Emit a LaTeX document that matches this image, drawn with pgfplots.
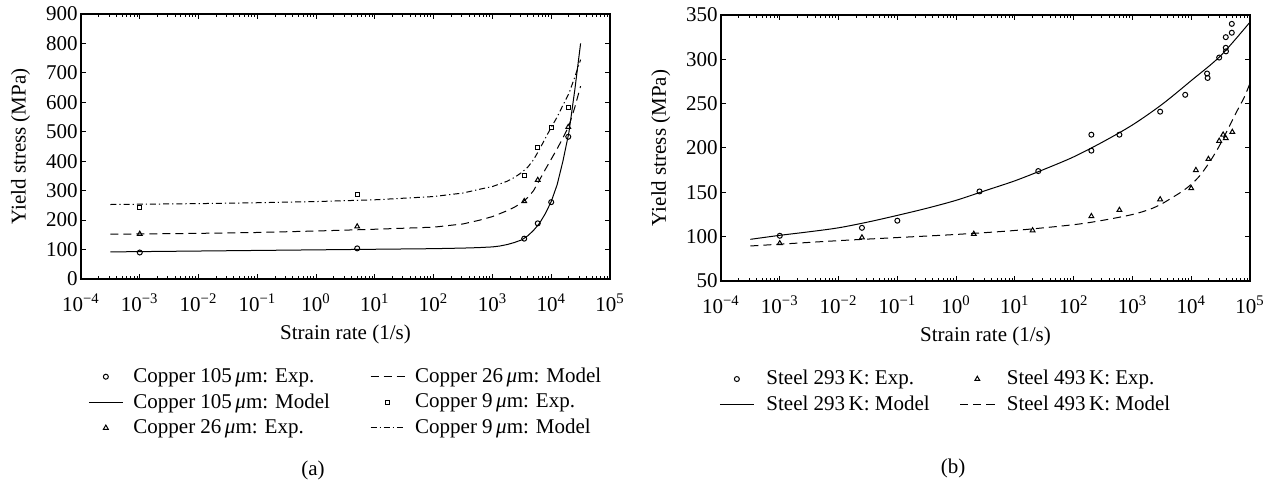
\documentclass[border=0pt]{standalone}
\usepackage{fontspec}
\setmainfont{Liberation Serif}
\usepackage{pgfplots}
\pgfplotsset{compat=1.18}

\newcommand{\sz}{\fontsize{10.5}{12}\selectfont}

\begin{document}
\begin{tikzpicture}
\useasboundingbox (0,0) rectangle (636.5pt,-242.5pt);

% (a) copper
\begin{axis}[
  xmode=log, scale only axis,
  width=264.5pt, height=132.5pt,
  at={(40.5pt,-139.5pt)}, anchor=south west,
  xmin=1e-4, xmax=1e5,
  ymin=0, ymax=900, ytick={0,100,...,900},
  xtick={1e-4,1e-3,1e-2,1e-1,1,1e1,1e2,1e3,1e4,1e5},
  xticklabels={10\textsuperscript{−4},10\textsuperscript{−3},10\textsuperscript{−2},10\textsuperscript{−1},10\textsuperscript{0},
    10\textsuperscript{1},10\textsuperscript{2},10\textsuperscript{3},10\textsuperscript{4},10\textsuperscript{5}},
  /pgf/number format/assume math mode=true,
  axis line style={line width=0.6pt},
  tick style={black, line width=0.5pt},
  major tick length=2.5pt, minor tick length=1.3pt,
  tick align=inside,
  ticklabel style={font=\sz},
  yticklabel style={inner xsep=1.5pt},
  xticklabel style={yshift=-4pt},
  label style={font=\sz},
  xlabel={Strain rate (1/s)},
  ylabel={Yield stress (MPa)},
  xlabel style={at={(axis description cs:0.5,-0.208)}, anchor=center},
  ylabel style={at={(axis description cs:-0.114,0.5)}, anchor=center},
  legend columns=2,
  legend cell align=left,
  legend style={draw=none, fill=none, inner sep=0pt, anchor=north west,
    at={(0.013,-0.319)}, font=\sz, row sep=0pt,
    /tikz/every odd column/.append style={column sep=3pt},
    /tikz/every even column/.append style={column sep=18pt}},
]
\addplot[only marks, mark=o, mark size=1.25pt, line width=0.5pt] coordinates {
  (1e-3,90) (5,104) (3470,137) (5900,189) (1e4,261) (19500,483)};
\addlegendentry{Copper 105\,\textit{μ}m: Exp.}
\addplot[black, line width=0.5pt, dash pattern=on 4pt off 2.5pt] coordinates {
  (3.16e-4,152) (1e-3,153) (1e-2,155) (0.1,158) (1,163) (10,169) (100,176)
  (316,187) (611,200) (1000,212) (1340,222) (1780,232) (2370,244) (3160,259)
  (4000,277) (5000,300) (6310,336) (7940,372) (1e4,407) (12600,442)
  (15800,479) (2e4,520) (25100,582) (31600,655)};
\addlegendentry{Copper 26\,\textit{μ}m: Model}
\addplot[black, line width=0.5pt] coordinates {
  (3.16e-4,92) (1e-3,93) (1e-2,95) (0.1,97) (1,99) (10,101) (100,103)
  (316,105) (562,106.5) (1000,109) (1330,112) (1780,117) (2370,124)
  (3160,133) (4000,147) (5000,165) (6310,189) (7940,222) (1e4,263)
  (12600,320) (15800,400) (2e4,498) (25100,640) (31600,800)};
\addlegendentry{Copper 105\,\textit{μ}m: Model}
\addplot[only marks, mark=square, mark size=1pt, line width=0.5pt] coordinates {
  (1e-3,243) (5,288) (3470,351) (5900,448) (1e4,516) (19500,583)};
\addlegendentry{Copper 9\,\textit{μ}m: Exp.}
\addplot[only marks, mark=triangle, mark size=1.4pt, line width=0.5pt] coordinates {
  (1e-3,153) (5,178) (3470,264) (5900,336) (19500,516)};
\addlegendentry{Copper 26\,\textit{μ}m: Exp.}
\addplot[black, line width=0.5pt, dash pattern=on 3pt off 1.5pt on 0.6pt off 1.5pt] coordinates {
  (3.16e-4,253) (1e-3,254) (1e-2,256) (0.1,259) (1,263) (10,269) (100,280)
  (316,292) (611,305) (1000,314) (1780,332) (2370,345) (3160,362)
  (4000,380) (5000,405) (6310,440) (7940,478) (1e4,515) (12600,550)
  (15800,590) (2e4,630) (25100,685) (31600,745)};
\addlegendentry{Copper 9\,\textit{μ}m: Model}
\end{axis}

% (b) steel
\begin{axis}[
  xmode=log, scale only axis,
  width=264.5pt, height=133pt,
  at={(360.5pt,-140.5pt)}, anchor=south west,
  xmin=1e-4, xmax=1e5,
  ymin=50, ymax=350, ytick={50,100,...,350},
  xtick={1e-4,1e-3,1e-2,1e-1,1,1e1,1e2,1e3,1e4,1e5},
  xticklabels={10\textsuperscript{−4},10\textsuperscript{−3},10\textsuperscript{−2},10\textsuperscript{−1},10\textsuperscript{0},
    10\textsuperscript{1},10\textsuperscript{2},10\textsuperscript{3},10\textsuperscript{4},10\textsuperscript{5}},
  /pgf/number format/assume math mode=true,
  axis line style={line width=0.6pt},
  tick style={black, line width=0.5pt},
  major tick length=2.5pt, minor tick length=1.3pt,
  tick align=inside,
  ticklabel style={font=\sz},
  yticklabel style={inner xsep=1.5pt},
  xticklabel style={yshift=-4pt},
  label style={font=\sz},
  xlabel={Strain rate (1/s)},
  ylabel={Yield stress (MPa)},
  xlabel style={at={(axis description cs:0.5,-0.208)}, anchor=center},
  ylabel style={at={(axis description cs:-0.114,0.5)}, anchor=center},
  legend columns=2,
  legend cell align=left,
  legend style={draw=none, fill=none, inner sep=0pt, anchor=north west,
    at={(-0.004,-0.319)}, font=\sz, row sep=0pt,
    /tikz/every odd column/.append style={column sep=4pt},
    /tikz/every even column/.append style={column sep=13pt}},
]
\addplot[only marks, mark=o, mark size=1.25pt, line width=0.5pt] coordinates {
  (1e-3,101) (0.025,110) (0.1,118) (2.5,151) (25,174) (200,215) (200,197)
  (600,215) (2960,241) (7900,260) (18600,284) (19000,279) (29900,302)
  (38700,325) (38700,313) (39000,309) (49000,340) (49000,330)};
\addlegendentry{Steel 293\,K: Exp.}
\addplot[only marks, mark=triangle, mark size=1.4pt, line width=0.5pt] coordinates {
  (1e-3,92.5) (0.025,99) (2,103) (20,107) (200,123) (600,130) (2960,142)
  (1e4,154.5) (12000,175) (19600,187.5) (29900,208) (34900,215)
  (38700,211) (50000,218)};
\addlegendentry{Steel 493\,K: Exp.}
\addplot[black, line width=0.5pt, smooth] coordinates {
  (3.16e-4,97) (1e-3,101.5) (3.16e-3,105.5) (1e-2,110) (3.16e-2,116.5)
  (0.1,124) (0.316,132) (1,141) (3.16,152) (10,163) (31.6,176) (100,190)
  (316,207) (1000,226) (3160,249) (1e4,276) (3.16e4,304) (1e5,342)};
\addlegendentry{Steel 293\,K: Model}
\addplot[black, line width=0.5pt, smooth, dash pattern=on 4pt off 2.5pt] coordinates {
  (3.16e-4,89.5) (1e-3,91.5) (1e-2,95.5) (0.1,99) (1,102.5) (10,107)
  (100,113.5) (316,118.5) (1000,125) (2000,131) (3160,137) (5000,145)
  (7000,151) (1e4,159) (1.41e4,169) (2e4,183) (2.82e4,199) (3.98e4,218)
  (5.62e4,238) (7.94e4,257) (1e5,273)};
\addlegendentry{Steel 493\,K: Model}
\end{axis}

\node[font=\sz] at (156.5pt,-235pt) {(a)};
\node[font=\sz] at (476.5pt,-234pt) {(b)};
\end{tikzpicture}
\end{document}
